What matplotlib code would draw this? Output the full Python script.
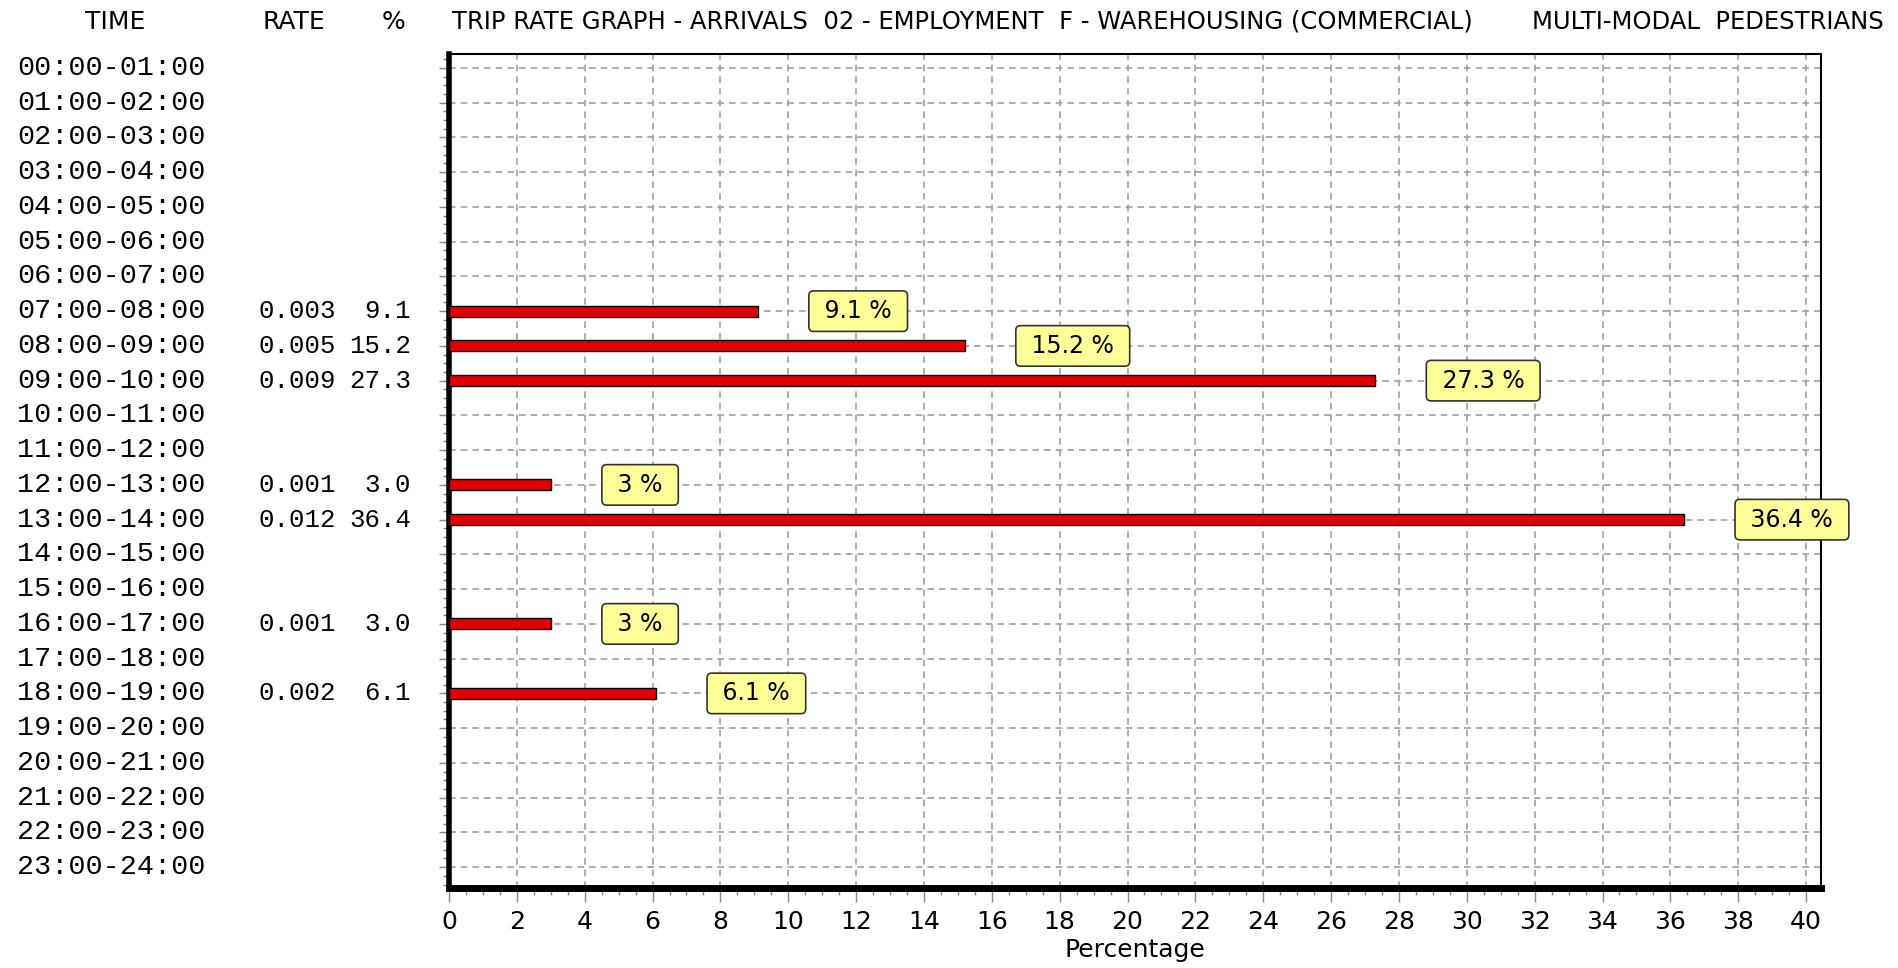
import matplotlib
matplotlib.use("Agg")
import matplotlib.pyplot as plt
from matplotlib.transforms import blended_transform_factory
from matplotlib.ticker import MultipleLocator

# data
times = [f"{h:02d}:00-{h + 1:02d}:00" for h in range(24)]
bar_hours = [7, 8, 9, 12, 13, 16, 18]
rates = [0.003, 0.005, 0.009, 0.001, 0.012, 0.001, 0.002]
percents = [9.1, 15.2, 27.3, 3.0, 36.4, 3.0, 6.1]

title = "TRIP RATE GRAPH - ARRIVALS  02 - EMPLOYMENT  F - WAREHOUSING (COMMERCIAL)"
subtitle = "MULTI-MODAL  PEDESTRIANS"

narrow = ["Liberation Sans Narrow", "DejaVu Sans"]
mono = ["Liberation Mono", "DejaVu Sans Mono"]

W, H = 1899, 968
fig = plt.figure(figsize=(W / 100, H / 100), dpi=100)
ax = fig.add_axes([449 / W, 1 - 888 / H, (1821 - 449) / W, (888 - 54) / H])

ax.barh(bar_hours, percents, height=0.32, color="#e00000",
        edgecolor="black", linewidth=1, zorder=3)

ax.set_xlim(0, 40.44)
ax.set_ylim(23.6, -0.4)

# grid
ax.set_xticks(range(0, 41, 2))
ax.xaxis.set_minor_locator(MultipleLocator(0.5))
ax.set_yticks(range(24))
ax.yaxis.set_minor_locator(MultipleLocator(0.25))
ax.set_yticklabels([])
ax.grid(True, which="major", color="#a0a0a0", linestyle=(0, (4, 3)),
        linewidth=1.2, zorder=0)
ax.tick_params(axis="x", which="major", length=10, width=1, color="#888888",
               labelsize=18, pad=6)
ax.tick_params(axis="x", which="minor", length=5, width=1, color="#888888")
ax.tick_params(axis="y", which="major", length=7, width=1, color="#888888")
ax.tick_params(axis="y", which="minor", length=4, width=1, color="#888888")
for lbl in ax.get_xticklabels():
    lbl.set_fontfamily(narrow)

ax.spines["left"].set_linewidth(4)
ax.spines["bottom"].set_linewidth(5)
ax.spines["top"].set_linewidth(1.5)
ax.spines["right"].set_linewidth(1.5)

ax.set_xlabel("Percentage", fontsize=18, family=narrow, labelpad=3)

# value boxes
for h, p in zip(bar_hours, percents):
    ax.text(p + 1.75, h, f" {p:g} % ", ha="left", va="center", fontsize=17,
            family=narrow, zorder=4,
            bbox=dict(boxstyle="round,pad=0.35,rounding_size=0.2",
                      facecolor="#ffff99", edgecolor="#333333", linewidth=1.2))

# table columns on the left
tr = blended_transform_factory(fig.transFigure, ax.transData)
for i, t in enumerate(times):
    fig.text(17 / W, i, t, transform=tr, ha="left", va="center",
             fontsize=20.5, family=mono)
for h, r, p in zip(bar_hours, rates, percents):
    fig.text(258 / W, h, f"{r:.3f}", transform=tr, ha="left", va="center",
             fontsize=18.5, family=mono)
    fig.text(411 / W, h, f"{p:.1f}", transform=tr, ha="right", va="center",
             fontsize=18.5, family=mono)

# header
hy = 1 - 22 / H
fig.text(115 / W, hy, "TIME", ha="center", va="center", fontsize=18, family=narrow)
fig.text(294 / W, hy, "RATE", ha="center", va="center", fontsize=18, family=narrow)
fig.text(394 / W, hy, "%", ha="center", va="center", fontsize=18, family=narrow)
fig.text(452 / W, hy, title, ha="left", va="center", fontsize=17.5, family=narrow)
fig.text(1532 / W, hy, subtitle, ha="left", va="center", fontsize=17.5, family=narrow)

fig.savefig("out.png", dpi=100)
